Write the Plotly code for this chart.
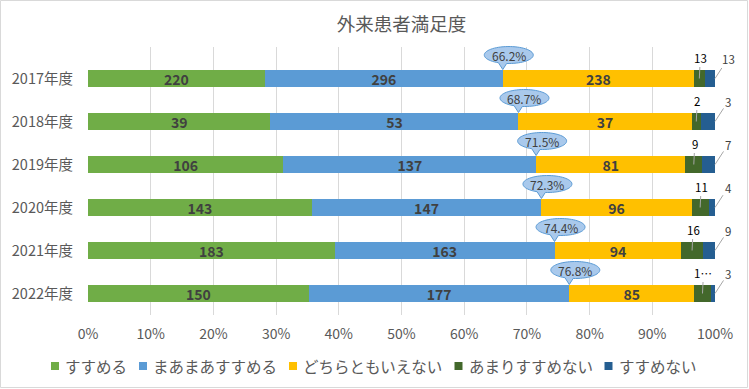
import math
import plotly.graph_objects as go

categories = ['2017年度', '2018年度', '2019年度', '2020年度', '2021年度', '2022年度']
series_names = ['すすめる', 'まあまあすすめる', 'どちらともいえない', 'あまりすすめない', 'すすめない']
s1 = [220, 39, 106, 143, 183, 150]
s2 = [296, 53, 137, 147, 163, 177]
s3 = [238, 37, 81, 96, 94, 85]
s4 = [13, 2, 9, 11, 16, 11]
s5 = [13, 3, 7, 4, 9, 3]
s4_labels = ['13', '2', '9', '11', '16', '1…']
s5_labels = ['13', '3', '7', '4', '9', '3']
colors = ['#70AD47', '#5B9BD5', '#FFC000', '#43682B', '#255E91']
tick_vals = [0, 10, 20, 30, 40, 50, 60, 70, 80, 90, 100]
tick_text = ['0%', '10%', '20%', '30%', '40%', '50%', '60%', '70%', '80%', '90%', '100%']

series = [s1, s2, s3, s4, s5]
totals = [sum(v) for v in zip(*series)]

FONT = 'Noto Sans CJK JP'
W, H = 749, 389
ML, MR, MT, MB = 88, 34, 47, 74
PW, PH = W - ML - MR, H - MT - MB
Y_TOP_EXTRA = 0.233
y_range = [len(categories) - 0.5, -0.5 - Y_TOP_EXTRA]


def px_x(px):
    return (px - ML) / PW


def px_y(py):
    return (H - MB - py) / PH


fig = go.Figure()
for i, (name, vals) in enumerate(zip(series_names, series)):
    show_text = i < 3
    fig.add_trace(go.Bar(
        y=categories, x=vals, name=name, orientation='h',
        marker=dict(color=colors[i], line=dict(width=0)),
        text=[str(v) for v in vals] if show_text else None,
        textposition='inside' if show_text else 'none',
        insidetextanchor='middle', textangle=0, constraintext='none',
        insidetextfont=dict(family=FONT, size=14, color='#404040', weight='bold'),
        hoverinfo='skip', showlegend=False,
    ))

annotations = []
shapes = []


def callout_path():
    cx, cy, rx, ry = 6, 23.5, 24.5, 8.5
    apex = (0, 9)
    a_start, a_end = -95, -115
    pts = []
    n = 60
    start = a_start
    end = a_end + 360
    for k in range(n + 1):
        a = math.radians(start + (end - start) * k / n)
        pts.append((cx + rx * math.cos(a), cy + ry * math.sin(a)))
    pts.append(apex)
    return 'M' + ' L'.join(f'{x:.2f},{y:.2f}' for x, y in pts) + ' Z'


path = callout_path()
span = y_range[0] - y_range[1]
for j, cat in enumerate(categories):
    t = totals[j]
    c1 = s1[j] / t * 100
    c2 = c1 + s2[j] / t * 100
    c3 = c2 + s3[j] / t * 100
    c4 = c3 + s4[j] / t * 100
    pct = (s1[j] + s2[j]) / t * 100
    y_paper = (y_range[0] - j) / span
    shapes.append(dict(type='path', xref='x', yref='paper', xsizemode='pixel', ysizemode='pixel',
                       xanchor=c2, yanchor=y_paper, path=path,
                       fillcolor='#A9C9EC', line=dict(color='#5B9BD5', width=1), layer='above'))
    annotations.append(dict(x=c2, y=cat, xref='x', yref='y', text=f'{pct:.1f}%', showarrow=False,
                            xshift=6, yshift=23.5, font=dict(family=FONT, size=12, color='#404040')))
    annotations.append(dict(x=(c3 + c4) / 2, y=cat, xref='x', yref='y', text=s4_labels[j],
                            showarrow=True, arrowhead=0, arrowwidth=1, arrowcolor='#A6A6A6',
                            ax=1, ay=-21, standoff=0,
                            font=dict(family=FONT, size=11.5, color='#000000')))
    annotations.append(dict(x=100, y=cat, xref='x', yref='y', text=s5_labels[j],
                            showarrow=True, arrowhead=0, arrowwidth=1, arrowcolor='#A6A6A6',
                            ax=13, ay=-20, standoff=0,
                            font=dict(family=FONT, size=11.5, color='#404040')))

# legend drawn as squares + texts along the bottom
LEG_FS = 15.5
leg_y = 366
x_cur = 51
for name, col in zip(series_names, colors):
    shapes.append(dict(type='rect', xref='paper', yref='paper',
                       x0=px_x(x_cur), x1=px_x(x_cur + 8), y0=px_y(leg_y + 4), y1=px_y(leg_y - 4),
                       fillcolor=col, line=dict(width=0), layer='above'))
    annotations.append(dict(x=px_x(x_cur + 12), y=px_y(leg_y), xref='paper', yref='paper',
                            text=name, showarrow=False, xanchor='left', yanchor='middle',
                            font=dict(family=FONT, size=LEG_FS, color='#595959')))
    x_cur += 8 + 5 + len(name) * LEG_FS + 13

shapes.append(dict(type='rect', xref='paper', yref='paper', x0=px_x(0.5), x1=px_x(W - 1.5),
                   y0=px_y(H - 1.5), y1=px_y(0.5), line=dict(color='#D9D9D9', width=1),
                   fillcolor='rgba(0,0,0,0)', layer='below'))

fig.update_layout(
    barmode='stack', barnorm='percent', bargap=0.61,
    width=W, height=H,
    margin=dict(l=ML, r=MR, t=MT, b=MB),
    paper_bgcolor='white', plot_bgcolor='white',
    title=dict(text='外来患者満足度', x=0.5, xref='paper', y=1 - 25 / H, yanchor='middle',
               font=dict(family=FONT, size=18.5, color='#595959')),
    font=dict(family=FONT, color='#595959'),
    xaxis=dict(range=[0, 100], tickvals=tick_vals, ticktext=tick_text, showgrid=True,
               gridcolor='#D9D9D9', gridwidth=1, zeroline=False, showline=False,
               ticks='', ticklabelstandoff=9, automargin=False,
               tickfont=dict(family=FONT, size=14, color='#595959'), fixedrange=True),
    yaxis=dict(range=y_range, showgrid=False, showline=False, ticks='',
               ticklabelstandoff=14, automargin=False,
               tickfont=dict(family=FONT, size=14.5, color='#595959'), fixedrange=True),
    showlegend=False,
    annotations=annotations,
    shapes=shapes,
)

fig.write_html('out.html', config={'displayModeBar': False},
               post_script="document.body.style.margin='0';")
